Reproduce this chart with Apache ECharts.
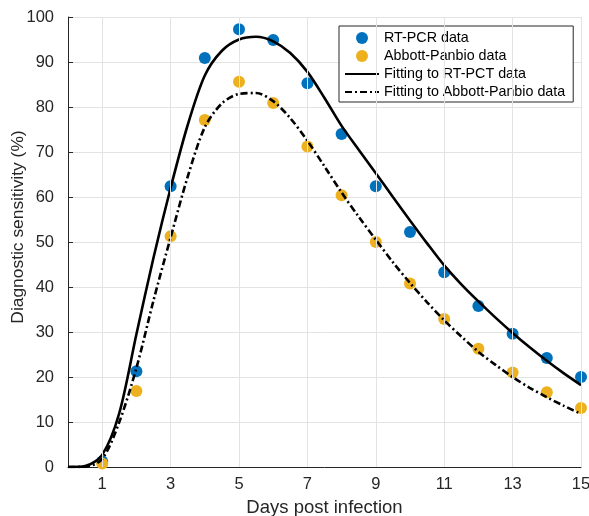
<!DOCTYPE html>
<html>
<head>
<meta charset="utf-8">
<script src="https://cdn.jsdelivr.net/npm/echarts@6/dist/echarts.min.js"></script>
<style>
  html, body { margin: 0; padding: 0; background: #fff; }
  #chart { width: 589px; height: 516px; }
</style>
</head>
<body>
<div id="chart"></div>
<script>
// measured points
var days = [1, 2, 3, 4, 5, 6, 7, 8, 9, 10, 11, 12, 13, 14, 15];
var rtpcr = [1.2, 21.3, 62.4, 90.9, 97.3, 94.9, 85.3, 74.0, 62.4, 52.2, 43.3, 35.8, 29.6, 24.2, 20.0];
var abbott = [0.8, 16.9, 51.3, 77.1, 85.6, 80.9, 71.2, 60.4, 50.0, 40.8, 32.9, 26.3, 21.0, 16.6, 13.1];

// fitted curves, every half day
var fitDays = [0, 0.5, 1, 1.5, 2, 2.5, 3, 3.5, 4, 4.5, 5, 5.5, 6, 6.5, 7, 7.5, 8, 8.5, 9, 9.5, 10, 10.5, 11, 11.5, 12, 12.5, 13, 13.5, 14, 14.5, 15];
var fitRtpcr = [0, 0.2, 2.7, 12, 29.5, 46.5, 62, 76, 87, 92.5, 95, 95.6, 94.6, 92, 87.8, 82, 75.8, 70.5, 65.3, 60, 54.8, 49.7, 44.8, 40.6, 36.8, 33.2, 29.8, 26.6, 23.6, 20.8, 18.2];
var fitAbbott = [0, 0.05, 1.8, 10, 22, 37, 51, 64.5, 75.5, 80.8, 82.9, 83.1, 81.3, 77.5, 72.5, 66.8, 61, 55.6, 50.5, 45.5, 40.9, 36.6, 32.6, 29, 25.6, 22.7, 20, 17.6, 15.5, 13.6, 11.8];

var xTicks = [1, 3, 5, 7, 9, 11, 13, 15];
var seriesNames = ['RT-PCR data', 'Abbott-Panbio data', 'Fitting to RT-PCT data', 'Fitting to Abbott-Panbio data'];

function pairs(xs, ys) {
    var out = [];
    for (var i = 0, l = xs.length; i < l; i++) {
        out.push([xs[i], ys[i]]);
    }
    return out;
}

var chart = echarts.init(document.getElementById('chart'), null, {renderer: 'canvas'});
var axisColor = '#262626';
var gridColor = '#e3e3e3';
var font = 'Liberation Sans, Arial, Helvetica, sans-serif';

var option = {
    animation: false,
    backgroundColor: '#fff',
    textStyle: { fontFamily: font },
    grid: { left: 68, right: 8, top: 17, bottom: 49, containLabel: false, outerBoundsMode: 'none' },
    legend: {
        data: [
            { name: seriesNames[0] },
            { name: seriesNames[1] },
            { name: seriesNames[2], itemStyle: { opacity: 0 } },
            { name: seriesNames[3], itemStyle: { opacity: 0 } }
        ],
        orient: 'vertical',
        left: 339,
        top: 26,
        padding: [5, 8, 3, 5],
        itemWidth: 34,
        itemHeight: 12,
        itemGap: 4,
        backgroundColor: '#fff',
        borderColor: axisColor,
        borderWidth: 1,
        borderRadius: 0,
        textStyle: { fontFamily: font, fontSize: 14.3, color: '#000', lineHeight: 14 }
    },
    xAxis: {
        type: 'value',
        min: 0,
        max: 15,
        interval: 1,
        name: 'Days post infection',
        nameLocation: 'middle',
        nameGap: 31,
        nameTextStyle: { fontFamily: font, fontSize: 18.5, color: axisColor },
        axisLine: { show: true, lineStyle: { color: axisColor, width: 1 } },
        axisTick: { show: true, inside: true, length: 5, customValues: xTicks, lineStyle: { color: axisColor } },
        axisLabel: { customValues: xTicks, fontFamily: font, fontSize: 16.5, color: axisColor, margin: 9 },
        splitLine: { show: false }
    },
    yAxis: {
        type: 'value',
        min: 0,
        max: 100,
        interval: 10,
        name: 'Diagnostic sensitivity (%)',
        nameLocation: 'middle',
        nameGap: 41,
        nameMoveOverlap: false,
        nameTextStyle: { fontFamily: font, fontSize: 17.4, color: axisColor, padding: [0, 0, 0, 30] },
        axisLine: { show: true, lineStyle: { color: axisColor, width: 1 } },
        axisTick: { show: true, inside: true, length: 5, lineStyle: { color: axisColor } },
        axisLabel: { fontFamily: font, fontSize: 16.5, color: axisColor, margin: 14 },
        splitLine: { show: true, lineStyle: { color: gridColor, width: 1 } }
    },
    series: [
        {
            // vertical grid lines at the labelled days
            name: 'xgrid',
            type: 'line',
            data: [],
            z: 0,
            silent: true,
            markLine: {
                silent: true,
                symbol: 'none',
                label: { show: false },
                lineStyle: { color: gridColor, type: 'solid', width: 1 },
                data: xTicks.map(function (v) { return { xAxis: v }; })
            }
        },
        {
            name: seriesNames[0],
            type: 'scatter',
            data: pairs(days, rtpcr),
            symbol: 'circle',
            symbolSize: 12,
            itemStyle: { color: '#0072BD', opacity: 1 },
            z: 3
        },
        {
            name: seriesNames[1],
            type: 'scatter',
            data: pairs(days, abbott),
            symbol: 'circle',
            symbolSize: 12,
            itemStyle: { color: '#EDB120', opacity: 1 },
            z: 3
        },
        {
            name: seriesNames[2],
            type: 'line',
            data: pairs(fitDays, fitRtpcr),
            smooth: 0.3,
            showSymbol: false,
            symbol: 'none',
            lineStyle: { color: '#000', width: 2.6, type: 'solid' },
            itemStyle: { color: '#000' },
            z: 4
        },
        {
            name: seriesNames[3],
            type: 'line',
            data: pairs(fitDays, fitAbbott),
            smooth: 0.3,
            showSymbol: false,
            symbol: 'none',
            lineStyle: { color: '#000', width: 2.6, type: [7, 3, 2, 3] },
            itemStyle: { color: '#000' },
            z: 4
        }
    ]
};
chart.setOption(option);
</script>
</body>
</html>
